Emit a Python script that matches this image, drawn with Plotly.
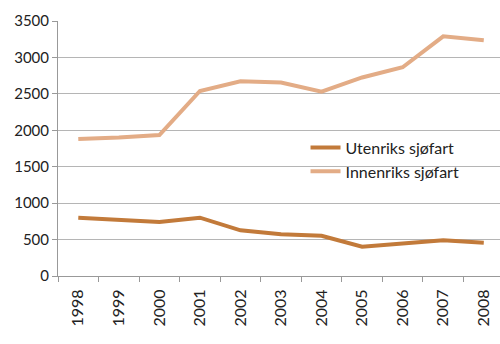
import plotly.graph_objects as go

years = ["1998", "1999", "2000", "2001", "2002", "2003", "2004", "2005", "2006", "2007", "2008"]
utenriks = [800, 775, 740, 800, 627, 572, 553, 402, 448, 490, 457]
innenriks = [1880, 1900, 1935, 2540, 2672, 2655, 2530, 2725, 2865, 3290, 3235]

fig = go.Figure()
fig.add_trace(go.Scatter(x=years, y=utenriks, mode="lines", name="Utenriks sjøfart",
                         line=dict(color="#C27A3A", width=4)))
fig.add_trace(go.Scatter(x=years, y=innenriks, mode="lines", name="Innenriks sjøfart",
                         line=dict(color="#E3AC86", width=4)))

fig.update_layout(
    width=500, height=344,
    margin=dict(l=58, r=0, t=21, b=68),
    paper_bgcolor="white", plot_bgcolor="white",
    font=dict(family="Lato, Liberation Sans, sans-serif", size=14, color="#222222"),
    showlegend=True,
    legend=dict(x=0.56, y=0.57, xanchor="left", yanchor="top",
                bgcolor="rgba(0,0,0,0)", font=dict(size=16, color="#222222"),
                tracegroupgap=0, itemwidth=30),
    xaxis=dict(type="category", range=[-0.5, 10.4], tickangle=-90,
               showgrid=False, showline=True, linecolor="#999999", linewidth=1,
               ticks="outside", ticklen=5, tickcolor="#999999",
               tickson="boundaries", tickfont=dict(size=16), ticklabelstandoff=6),
    yaxis=dict(range=[0, 3500], dtick=500, showgrid=True, gridcolor="#b5b5b5",
               gridwidth=1, showline=True, linecolor="#999999", linewidth=1,
               ticks="outside", ticklen=5, tickcolor="#999999",
               zeroline=False, tickfont=dict(size=15)),
)
fig.write_html("out.html")
